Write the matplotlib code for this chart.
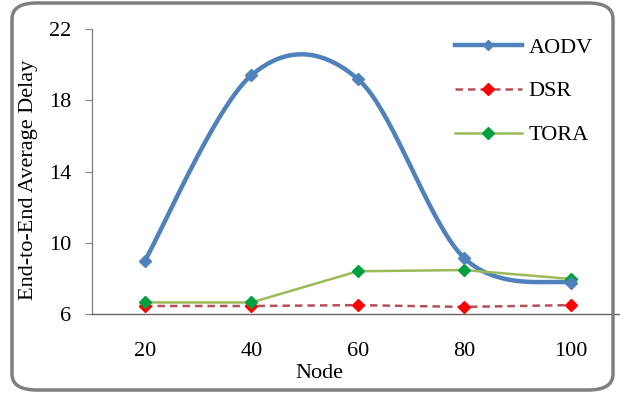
import numpy as np
import matplotlib.pyplot as plt
from matplotlib.patches import FancyBboxPatch

nodes = [20, 40, 60, 80, 100]
aodv = [9.0, 19.4, 19.2, 9.15, 7.75]
dsr = [6.45, 6.45, 6.5, 6.4, 6.5]
tora = [6.65, 6.65, 8.4, 8.47, 7.97]


def smooth(xs, ys, n=40):
    # catmull-rom style bezier, like excel's smoothed line
    xs = np.asarray(xs, float)
    ys = np.asarray(ys, float)
    px = np.concatenate([[xs[0]], xs, [xs[-1]]])
    py = np.concatenate([[ys[0]], ys, [ys[-1]]])
    outx, outy = [], []
    t = np.linspace(0, 1, n)
    for i in range(1, len(px) - 2):
        p0x, p1x, p2x, p3x = px[i - 1], px[i], px[i + 1], px[i + 2]
        p0y, p1y, p2y, p3y = py[i - 1], py[i], py[i + 1], py[i + 2]
        c1x = p1x + (p2x - p0x) / 6
        c1y = p1y + (p2y - p0y) / 6
        c2x = p2x - (p3x - p1x) / 6
        c2y = p2y - (p3y - p1y) / 6
        bx = (1 - t) ** 3 * p1x + 3 * (1 - t) ** 2 * t * c1x + 3 * (1 - t) * t ** 2 * c2x + t ** 3 * p2x
        by = (1 - t) ** 3 * p1y + 3 * (1 - t) ** 2 * t * c1y + 3 * (1 - t) * t ** 2 * c2y + t ** 3 * p2y
        outx.extend(bx)
        outy.extend(by)
    return np.array(outx), np.array(outy)


plt.rcParams['font.family'] = ['Liberation Serif', 'DejaVu Serif']

fig = plt.figure(figsize=(6.2, 3.98), dpi=100)
border = FancyBboxPatch((12 / 620, 8 / 398), 601 / 620, 387 / 398,
                        boxstyle="round,pad=0,rounding_size=0.04",
                        transform=fig.transFigure, fill=False,
                        edgecolor='#7f7f7f', linewidth=2.5)
fig.patches.append(border)

ax = fig.add_axes([0.148, 0.211, 0.858, 0.716])
pos = np.arange(len(nodes))

sx, sy = smooth(pos, aodv)
ax.plot(sx, sy, color='#4F81BD', lw=3.2, solid_capstyle='round', zorder=3)
ax.plot(pos, aodv, ls='none', marker='D', ms=6, color='#4F81BD', zorder=4)
ax.plot([], [], color='#4F81BD', lw=3.2, marker='D', ms=5, label='AODV')

ax.plot(pos, dsr, color='#B5505A', lw=1.8, ls=(0, (3, 2)), marker='D', ms=6,
        markerfacecolor='#FF0000', markeredgecolor='#FF0000', label='DSR', zorder=3)
ax.plot(pos, tora, color='#9BBB59', lw=1.8, marker='D', ms=6,
        markerfacecolor='#00A040', markeredgecolor='#00A040', label='TORA', zorder=3)

ax.set_xlim(-0.5, len(nodes) - 0.5)
ax.set_ylim(6, 22)
ax.set_yticks([6, 10, 14, 18, 22])
ax.set_xticks(pos)
ax.set_xticklabels([str(n) for n in nodes])
ax.tick_params(axis='x', length=0, labelsize=16, pad=20)
ax.tick_params(axis='y', length=5, color='#868686', labelsize=16, pad=10)

for s in ['top', 'right']:
    ax.spines[s].set_visible(False)
ax.spines['left'].set_color('#868686')
ax.spines['bottom'].set_color('#6f5f66')
ax.spines['left'].set_linewidth(1)
ax.spines['bottom'].set_linewidth(1)

ax.set_xlabel('Node', fontsize=16)
ax.set_ylabel('End-to-End Average Delay', fontsize=16)
ax.yaxis.set_label_coords(-0.1015, 0.47)
ax.xaxis.set_label_coords(0.427, -0.175)

leg = ax.legend(loc='upper left', bbox_to_anchor=(435 / 620, 1 - 17 / 398),
                bbox_transform=fig.transFigure, frameon=False, fontsize=16,
                handlelength=3.0, handletextpad=0.3, labelspacing=1.05)

fig.savefig('out.png', dpi=100)
